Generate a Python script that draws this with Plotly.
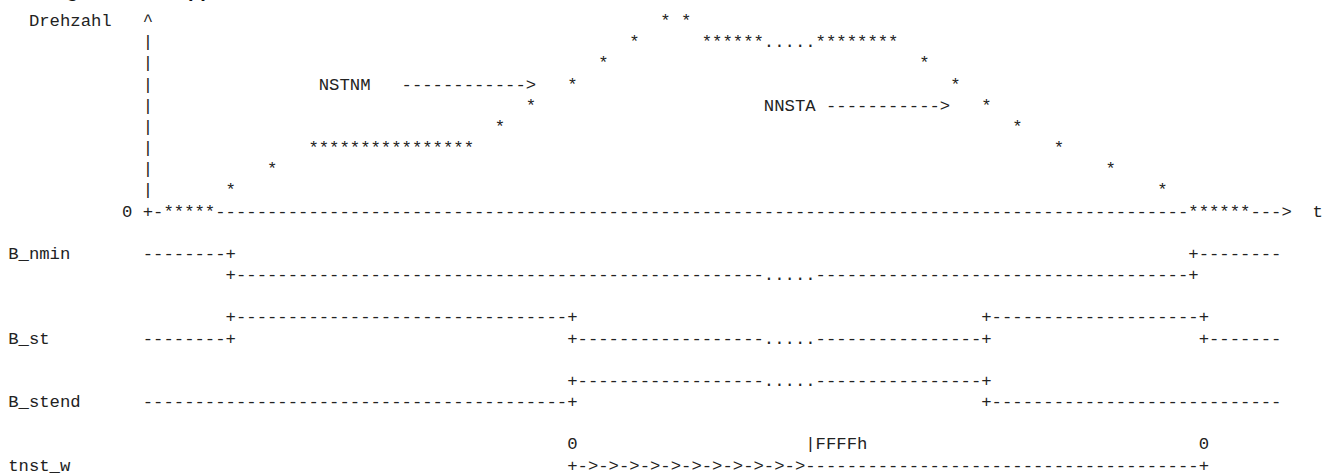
import plotly.graph_objects as go

# ---------------- data: the ASCII timing diagram, one string per text row ----------------
title_text = "Zeitdiagramm zur Applikation Startende-Bits"

# speed curve "Drehzahl" over time t (rows 0..9)
speed_rows = [
    "  Drehzahl   ^" + " " * 49 + "* *",
    " " * 13 + "|" + " " * 46 + "*" + " " * 6 + "******.....********",
    " " * 13 + "|" + " " * 43 + "*" + " " * 30 + "*",
    " " * 13 + "|" + " " * 16 + "NSTNM" + " " * 3 + "-" * 12 + ">" + " " * 3 + "*" + " " * 36 + "*",
    " " * 13 + "|" + " " * 36 + "*" + " " * 22 + "NNSTA" + " " + "-" * 11 + ">" + " " * 3 + "*",
    " " * 13 + "|" + " " * 33 + "*" + " " * 49 + "*",
    " " * 13 + "|" + " " * 15 + "*" * 16 + " " * 56 + "*",
    " " * 13 + "|" + " " * 11 + "*" + " " * 80 + "*",
    " " * 13 + "|" + " " * 7 + "*" + " " * 89 + "*",
    " " * 11 + "0 +-" + "*****" + "-" * 94 + "******" + "--->" + "  t",
]

# signal names
signal_names = ["B_nmin", "B_st", "B_stend", "tnst_w"]

# upper / lower line of each signal
signal_upper = [
    " " * 13 + "-" * 8 + "+" + " " * 92 + "+" + "-" * 8,
    " " * 21 + "+" + "-" * 32 + "+" + " " * 39 + "+" + "-" * 20 + "+",
    " " * 54 + "+" + "-" * 18 + "....." + "-" * 16 + "+",
    " " * 54 + "0" + " " * 22 + "|FFFFh" + " " * 32 + "0",
]
signal_lower = [
    " " * 21 + "+" + "-" * 51 + "....." + "-" * 36 + "+",
    " " * 13 + "-" * 8 + "+" + " " * 32 + "+" + "-" * 18 + "....." + "-" * 16 + "+" + " " * 20 + "+" + "-" * 7,
    " " * 13 + "-" * 41 + "+" + " " * 39 + "+" + "-" * 28,
    " " * 54 + "+" + "->" * 11 + "-" * 38 + "+",
]


def with_label(label, line):
    return label + line[len(label):]


signal_block = []
# B_nmin (label on the upper line)
signal_block += ["", with_label(signal_names[0], signal_upper[0]), signal_lower[0]]
# B_st
signal_block += ["", signal_upper[1], with_label(signal_names[1], signal_lower[1])]
# B_stend
signal_block += ["", signal_upper[2], with_label(signal_names[2], signal_lower[2])]
# tnst_w
signal_block += ["", signal_upper[3], with_label(signal_names[3], signal_lower[3])]

rows = speed_rows + signal_block

# ---------------- figure ----------------
W, H = 1332, 473
CHAR_W = 10.356      # px per character column
X0 = 8.2             # px, left edge of column 0
LINE_H = 21.17       # px per text row
Y0 = 21.7            # px, centre of row 0
FONT_SIZE = 17.26

NBSP = "\u00a0"
text = [r.replace(" ", NBSP) for r in rows]

fig = go.Figure(
    go.Scatter(
        x=[0] * len(rows),
        y=list(range(len(rows))),
        mode="text",
        text=text,
        textposition="middle right",
        textfont=dict(family="Liberation Mono, Courier New, monospace", size=FONT_SIZE, color="#222222"),
        hoverinfo="skip",
        showlegend=False,
    )
)

fig.add_annotation(
    text="<b>" + title_text + "</b>",
    xref="paper", yref="paper",
    x=0, y=1 - 3.5 / H,
    xanchor="left", yanchor="bottom",
    showarrow=False,
    font=dict(family="Liberation Sans, Arial, sans-serif", size=20, color="#111111"),
)

fig.update_layout(
    width=W, height=H,
    margin=dict(l=0, r=0, t=0, b=0),
    paper_bgcolor="white",
    plot_bgcolor="white",
    xaxis=dict(range=[-X0 / CHAR_W, (W - X0) / CHAR_W], visible=False, fixedrange=True),
    yaxis=dict(range=[(H - Y0) / LINE_H, -Y0 / LINE_H], visible=False, fixedrange=True),
)

fig.write_html(
    "out.html",
    config={"displayModeBar": False, "staticPlot": True},
    post_script="document.body.style.margin='0px';document.body.style.overflow='hidden';",
)
